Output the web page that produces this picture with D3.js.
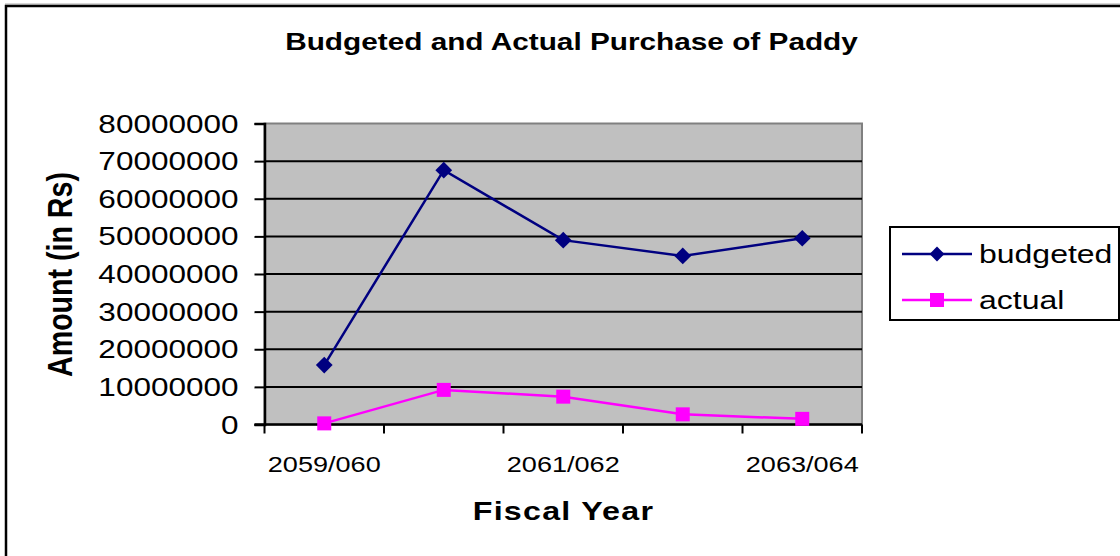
<!DOCTYPE html>
<html>
<head>
<meta charset="utf-8">
<script src="https://cdn.jsdelivr.net/npm/d3@7"></script>
<style>
  html, body { margin: 0; padding: 0; background: #fff; }
  svg { display: block; font-family: "Liberation Sans", Arial, sans-serif; }
</style>
</head>
<body>
<svg id="chart" width="1120" height="556"></svg>
<script>
// Fiscal years and purchase amounts (Rs)
const categories = ["2059/060", "2060/061", "2061/062", "2062/063", "2063/064"];
const budgeted = [15800000, 67600000, 49000000, 44800000, 49500000];
const actual = [300000, 9200000, 7400000, 2700000, 1500000];
const yTicks = [0, 10000000, 20000000, 30000000, 40000000, 50000000, 60000000, 70000000, 80000000];
const shownLabels = ["2059/060", "2061/062", "2063/064"];
const seriesNames = ["budgeted", "actual"];

const svg = d3.select("#chart");
const W = 1120, H = 556;
const plot = { left: 264.5, right: 862, top: 123.5, bottom: 424.5 };

// Widen text horizontally by a factor while keeping its anchor
function stretch(sel, sx) {
  sel.each(function () {
    const len = this.getComputedTextLength();
    d3.select(this).attr("textLength", len * sx).attr("lengthAdjust", "spacingAndGlyphs");
  });
  return sel;
}

svg.append("rect").attr("width", W).attr("height", H).attr("fill", "#fff");

// Outer chart frame
svg.append("line").attr("x1", 5).attr("x2", W).attr("y1", 4).attr("y2", 4)
  .attr("stroke", "#aaa").attr("stroke-width", 1);
svg.append("rect").attr("x", 6).attr("y", 6).attr("width", W + 10).attr("height", H + 10)
  .attr("fill", "none").attr("stroke", "#000").attr("stroke-width", 2.5);

const band = d3.scaleBand().domain(categories).range([plot.left, plot.right]);
const x = d3.scalePoint().domain(categories).range([plot.left, plot.right]).padding(0.5);
const y = d3.scaleLinear().domain([0, 80000000]).range([plot.bottom, plot.top]);

// Plot area
svg.append("rect")
  .attr("x", plot.left).attr("y", plot.top)
  .attr("width", plot.right - plot.left).attr("height", plot.bottom - plot.top)
  .attr("fill", "#c0c0c0").attr("stroke", "#808080").attr("stroke-width", 2);

// Horizontal gridlines
svg.append("g").selectAll("line")
  .data(yTicks.filter(v => v > 0 && v < 80000000))
  .join("line")
  .attr("x1", plot.left).attr("x2", plot.right)
  .attr("y1", d => y(d)).attr("y2", d => y(d))
  .attr("stroke", "#000").attr("stroke-width", 2);

// Y axis
const yAxis = svg.append("g").attr("transform", `translate(${plot.left},0)`)
  .call(d3.axisLeft(y).tickValues(yTicks).tickFormat(d3.format("d")).tickSize(10).tickPadding(16));
yAxis.select(".domain").attr("stroke", "#000").attr("stroke-width", 2.5);
yAxis.selectAll(".tick line").attr("stroke", "#000").attr("stroke-width", 2);
yAxis.selectAll(".tick text")
  .attr("font-size", 25).attr("fill", "#000").attr("dy", "0.34em")
  .attr("font-family", "Liberation Sans, Arial, sans-serif");
stretch(yAxis.selectAll(".tick text"), 1.26);

// X axis: tick marks at the category boundaries
const xAxisG = svg.append("g");
xAxisG.append("line")
  .attr("x1", plot.left - 10).attr("x2", plot.right)
  .attr("y1", plot.bottom).attr("y2", plot.bottom)
  .attr("stroke", "#000").attr("stroke-width", 2.5);
const edges = categories.map(c => band(c)).concat([plot.right]);
xAxisG.selectAll("line.tk").data(edges).join("line").attr("class", "tk")
  .attr("x1", d => d).attr("x2", d => d)
  .attr("y1", plot.bottom).attr("y2", plot.bottom + 9)
  .attr("stroke", "#000").attr("stroke-width", 2);
const xl = xAxisG.selectAll("text").data(shownLabels).join("text")
  .attr("x", d => x(d)).attr("y", 472)
  .attr("text-anchor", "middle").attr("font-size", 22).attr("fill", "#000")
  .text(d => d);
stretch(xl, 1.23);

// Series lines and markers
const line = d3.line().x((d, i) => x(categories[i])).y(d => y(d));
svg.append("path").datum(budgeted).attr("d", line)
  .attr("fill", "none").attr("stroke", "#000080").attr("stroke-width", 2.5);
svg.append("path").datum(actual).attr("d", line)
  .attr("fill", "none").attr("stroke", "#ff00ff").attr("stroke-width", 2.5);

svg.append("g").selectAll("path").data(budgeted).join("path")
  .attr("transform", (d, i) => `translate(${x(categories[i])},${y(d)}) rotate(45)`)
  .attr("d", d3.symbol().type(d3.symbolSquare).size(140))
  .attr("fill", "#000080");
svg.append("g").selectAll("rect").data(actual).join("rect")
  .attr("x", (d, i) => x(categories[i]) - 7).attr("y", d => y(d) - 7)
  .attr("width", 14).attr("height", 14).attr("fill", "#ff00ff");

// Title and axis titles
const title = svg.append("text")
  .attr("x", 571.5).attr("y", 50).attr("text-anchor", "middle")
  .attr("font-size", 24).attr("font-weight", "bold").attr("fill", "#000")
  .text("Budgeted and Actual Purchase of Paddy");
stretch(title, 1.24);

const xt = svg.append("text")
  .attr("x", 563.5).attr("y", 520).attr("text-anchor", "middle")
  .attr("font-size", 26).attr("font-weight", "bold").attr("fill", "#000")
  .attr("letter-spacing", 1)
  .text("Fiscal Year");
stretch(xt, 1.24);

svg.append("g").attr("transform", "translate(72,274.5) scale(1.24,1) rotate(-90)")
  .append("text")
  .attr("x", 0).attr("y", 0).attr("text-anchor", "middle")
  .attr("font-size", 28.6).attr("font-weight", "bold").attr("fill", "#000")
  .text("Amount (in Rs)");

// Legend
const lg = svg.append("g");
lg.append("rect").attr("x", 890).attr("y", 227).attr("width", 229).attr("height", 93)
  .attr("fill", "#fff").attr("stroke", "#000").attr("stroke-width", 2);
const colors = ["#000080", "#ff00ff"];
const rows = lg.selectAll("g.row").data(seriesNames).join("g").attr("class", "row")
  .attr("transform", (d, i) => `translate(0,${254 + i * 46})`);
rows.append("line").attr("x1", 902).attr("x2", 972).attr("y1", 0).attr("y2", 0)
  .attr("stroke", (d, i) => colors[i]).attr("stroke-width", 2.5);
rows.filter((d, i) => i === 0).append("path")
  .attr("transform", "translate(937,0) rotate(45)")
  .attr("d", d3.symbol().type(d3.symbolSquare).size(110))
  .attr("fill", colors[0]);
rows.filter((d, i) => i === 1).append("rect")
  .attr("x", 930).attr("y", -7).attr("width", 14).attr("height", 14)
  .attr("fill", colors[1]);
const lt = rows.append("text").attr("x", 979).attr("y", 9)
  .attr("font-size", 26).attr("fill", "#000").text(d => d);
stretch(lt, 1.23);
</script>
</body>
</html>
